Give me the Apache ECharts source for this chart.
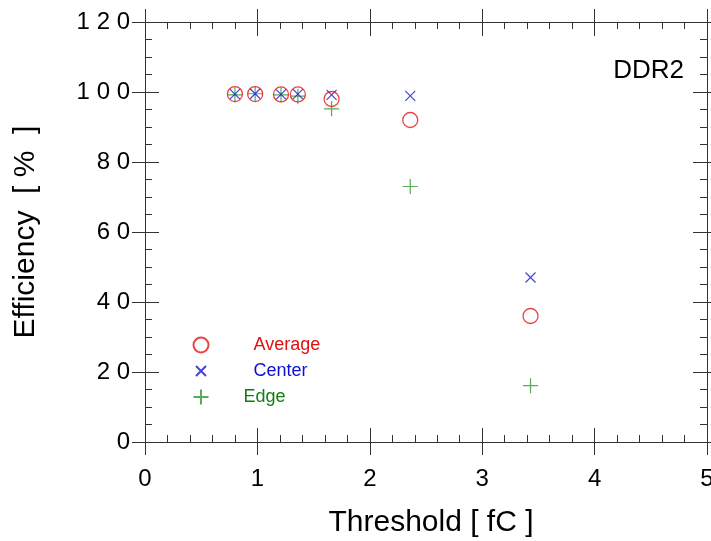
<!DOCTYPE html>
<html>
<head>
<meta charset="utf-8">
<script src="https://cdn.jsdelivr.net/npm/echarts@6/dist/echarts.min.js"></script>
<style>
  html, body { margin: 0; padding: 0; background: #fff; }
  #chart { width: 711px; height: 541px; }
</style>
</head>
<body>
<div id="chart"></div>
<script>
// data
const thresholds = [0.8, 0.98, 1.21, 1.36, 1.66, 2.36, 3.43]
const average = [99.4, 99.4, 99.3, 99.3, 98.0, 92.0, 36.0]
const center = [99.4, 99.5, 99.3, 99.4, 99.2, 98.9, 47.0]
const edge = [99.2, 99.5, 99.2, 98.8, 95.2, 73.0, 16.1]
const xTicks = [0, 1, 2, 3, 4, 5]
const yTicks = [0, 20, 40, 60, 80, 100, 120]

const font = 'Liberation Sans, Arial, sans-serif'
const lineColor = '#333'

const pairs = ys => thresholds.map((x, i) => [x, ys[i]])

// one axis with outward major ticks, a second with inward major + minor ticks
const frameX = (position, withLabels) => [
  {
    type: 'value', position, min: 0, max: 5, interval: 1,
    axisLine: { show: true, onZero: false, lineStyle: { color: lineColor } },
    axisTick: { show: true, inside: false, length: 13, lineStyle: { color: lineColor } },
    axisLabel: withLabels ? {
      show: true, margin: 25, fontSize: 24, color: '#000', fontFamily: font,
      formatter: v => (xTicks.includes(v) ? String(v) : '')
    } : { show: false },
    splitLine: { show: false },
    name: withLabels ? 'Threshold [ fC ]' : '',
    nameLocation: 'middle', nameGap: 66,
    nameTextStyle: { fontSize: 30, color: '#000', fontFamily: font, padding: [0, 0, 0, 10] }
  },
  {
    type: 'value', position, min: 0, max: 5, interval: 1,
    axisLine: { show: false, onZero: false },
    axisTick: { show: true, inside: true, length: 14, lineStyle: { color: lineColor } },
    minorTick: { show: true, splitNumber: 5, length: 7, lineStyle: { color: lineColor } },
    axisLabel: { show: false },
    splitLine: { show: false }
  }
]

const frameY = (position, withLabels) => [
  {
    type: 'value', position, min: 0, max: 120, interval: 20,
    axisLine: { show: true, onZero: false, lineStyle: { color: lineColor } },
    axisTick: { show: true, inside: false, length: 13, lineStyle: { color: lineColor } },
    axisLabel: withLabels ? {
      show: true, margin: 15, fontSize: 24, color: '#000', fontFamily: font,
      formatter: v => (yTicks.includes(v) ? String(v).split('').join(' ') : '')
    } : { show: false },
    splitLine: { show: false },
    name: withLabels ? 'Efficiency  [ %  ]' : '',
    nameLocation: 'middle', nameGap: 104, nameRotate: 90,
    nameTextStyle: { fontSize: 30, color: '#000', fontFamily: font }
  },
  {
    type: 'value', position, min: 0, max: 120, interval: 20,
    axisLine: { show: false, onZero: false },
    axisTick: { show: true, inside: true, length: 14, lineStyle: { color: lineColor } },
    minorTick: { show: true, splitNumber: 4, length: 7, lineStyle: { color: lineColor } },
    axisLabel: { show: false },
    splitLine: { show: false }
  }
]

const xAxes = [...frameX('bottom', true), ...frameX('top', false)]
const yAxes = [...frameY('left', true), ...frameY('right', false)]

const chart = echarts.init(document.getElementById('chart'))
chart.setOption({
  animation: false,
  backgroundColor: '#fff',
  grid: { left: 145, right: 4, top: 22, bottom: 99, containLabel: false, outerBoundsMode: 'none' },
  title: {
    text: 'DDR2', right: 27, top: 58, padding: 0,
    textStyle: { fontSize: 26, fontWeight: 'normal', color: '#000', fontFamily: font }
  },
  legend: {
    orient: 'vertical', left: 191, top: 335, padding: 0,
    itemWidth: 15, itemHeight: 15, itemGap: 6,
    textStyle: { fontSize: 18, fontFamily: font },
    data: [
      { name: 'Average', textStyle: { color: '#e01010', padding: [0, 0, 0, 40] } },
      { name: 'Center', icon: 'path://M-2.5,-2.5L-2.5,-2.4M12.5,12.5L12.5,12.4M0,0L10,10M10,0L0,10',
        textStyle: { color: '#1010d0', padding: [0, 0, 0, 40] } },
      { name: 'Edge', textStyle: { color: '#108010', padding: [0, 0, 0, 30] } }
    ]
  },
  xAxis: xAxes,
  yAxis: yAxes,
  series: [
    {
      name: 'Edge', type: 'scatter', data: pairs(edge),
      symbol: 'path://M5,0L5,10M0,5L10,5', symbolSize: 15,
      itemStyle: { color: 'none', borderColor: '#2a9a2a', borderWidth: 1.2 }
    },
    {
      name: 'Center', type: 'scatter', data: pairs(center),
      symbol: 'path://M0,0L10,10M10,0L0,10', symbolSize: 10,
      itemStyle: { color: 'none', borderColor: '#1515d5', borderWidth: 1.2 }
    },
    {
      name: 'Average', type: 'scatter', data: pairs(average),
      symbol: 'circle', symbolSize: 15,
      itemStyle: { color: 'none', borderColor: '#e51515', borderWidth: 1.3 }
    }
  ]
})
</script>
</body>
</html>
